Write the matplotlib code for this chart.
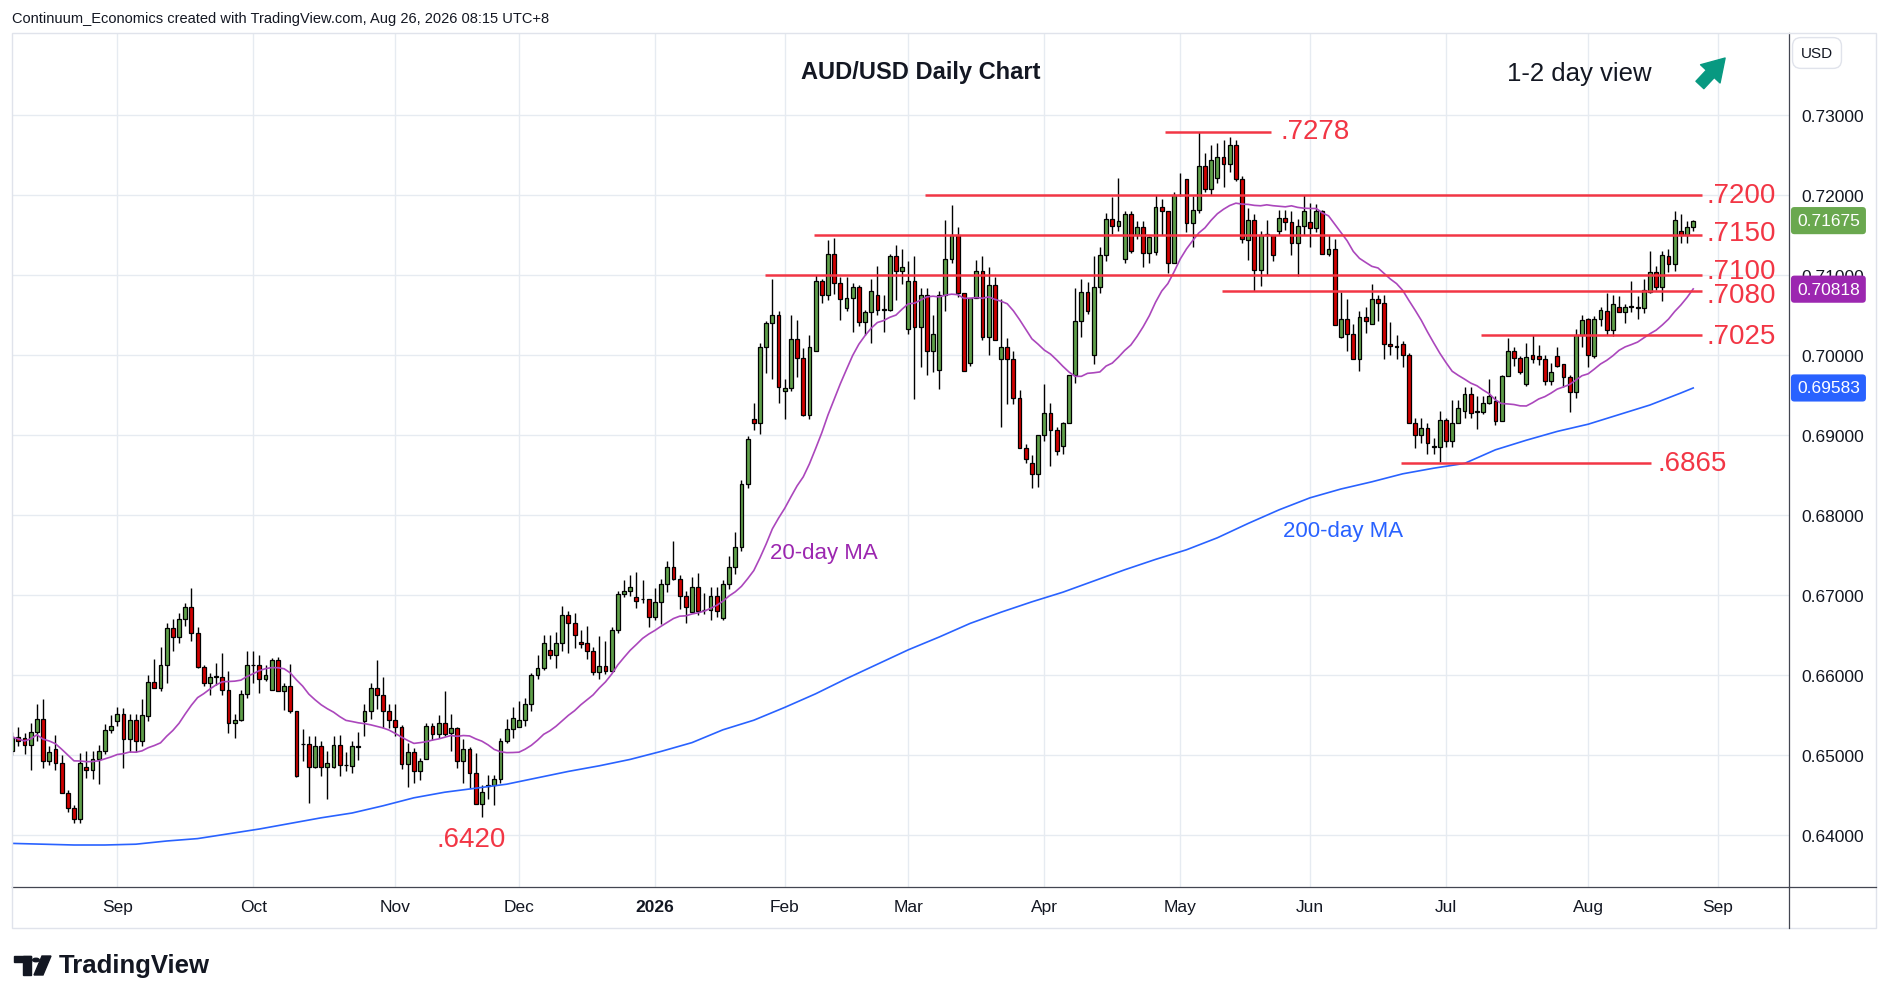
import numpy as np
import pandas as pd
import matplotlib.pyplot as plt
from matplotlib.patches import Rectangle, Circle, Polygon, FancyArrowPatch
from matplotlib.lines import Line2D
import matplotlib.transforms as mtransforms

plt.rcParams['font.family'] = ['Liberation Sans', 'DejaVu Sans']

# daily AUD/USD candles, 7 Aug 2025 .. 26 Aug 2026
opens = [
    .6505, .6522, .6521, .6512, .6528, .6545, .6492, .6507, .6490, .6452,
    .6433, .6420, .6485, .6481, .6494, .6505, .6531, .6542, .6551, .6520,
    .6543, .6517, .6548, .6591, .6583, .6612, .6658, .6647, .6669, .6685,
    .6652, .6610, .6589, .6597, .6597, .6581, .6540, .6543, .6576, .6612,
    .6612, .6595, .6581, .6618, .6579, .6586, .6554, .6513, .6513, .6485,
    .6511, .6484, .6484, .6512, .6487, .6486, .6509, .6542, .6555, .6583,
    .6574, .6555, .6543, .6535, .6488, .6503, .6480, .6495, .6536, .6526,
    .6540, .6527, .6533, .6492, .6507, .6477, .6438, .6461, .6462, .6469,
    .6517, .6532, .6535, .6543, .6563, .6600, .6608, .6631, .6624, .6640,
    .6675, .6664, .6641, .6639, .6630, .6603, .6611, .6604, .6656, .6701,
    .6704, .6697, .6694, .6694, .6672, .6691, .6713, .6735, .6720, .6698,
    .6678, .6710, .6681, .6681, .6698, .6671, .6713, .6735, .6760, .6838,
    .6920, .6915, .7010, .7040, .7049, .6955, .6958, .7020, .6996, .6924,
    .7005, .7092, .7074, .7126, .7089, .7058, .7071, .7085, .7041, .7053,
    .7074, .7056, .7056, .7123, .7104, .7032, .7092, .7034, .7074, .7005,
    .6981, .7074, .7119, .7150, .7077, .6990, .7071, .7104, .7022, .7087,
    .6994, .7010, .6994, .6946, .6883, .6865, .6851, .6900, .6927, .6906,
    .6886, .6915, .6974, .7042, .7078, .7000, .7085, .7125, .7169, .7161,
    .7120, .7176, .7150, .7160, .7127, .7128, .7185, .7180, .7115, .7199,
    .7220, .7165, .7181, .7236, .7207, .7221, .7247, .7238, .7262, .7220,
    .7143, .7168, .7106, .7150, .7150, .7155, .7171, .7166, .7140, .7161,
    .7166, .7158, .7180, .7126, .7132, .7022, .7044, .7026, .6995, .7047,
    .7038, .7070, .7065, .7013, .7010, .7013, .7000, .6915, .6899, .6908,
    .6885, .6885, .6918, .6892, .6915, .6930, .6951, .6928, .6928, .6939,
    .6942, .6917, .6973, .7004, .6996, .6963, .6999, .6998, .6995, .6967,
    .6998, .6988, .6972, .6953, .7024, .7044, .6998, .7045, .7055, .7031,
    .7060, .7053, .7060, .7060, .7058, .7078, .7103, .7084, .7123, .7113,
    .7155, .7149, .7160,
]
highs = [
    .6528, .6535, .6527, .6540, .6563, .6569, .6511, .6524, .6500, .6456,
    .6437, .6502, .6504, .6504, .6512, .6538, .6549, .6560, .6558, .6551,
    .6551, .6569, .6599, .6620, .6635, .6665, .6669, .6677, .6690, .6708,
    .6660, .6612, .6602, .6614, .6627, .6604, .6551, .6581, .6629, .6629,
    .6624, .6612, .6621, .6622, .6590, .6613, .6554, .6532, .6523, .6523,
    .6517, .6504, .6523, .6525, .6503, .6517, .6528, .6563, .6590, .6618,
    .6597, .6563, .6563, .6537, .6515, .6508, .6496, .6540, .6540, .6550,
    .6580, .6551, .6535, .6519, .6510, .6502, .6462, .6475, .6475, .6521,
    .6544, .6559, .6567, .6571, .6602, .6624, .6649, .6649, .6653, .6686,
    .6679, .6677, .6656, .6661, .6635, .6648, .6642, .6660, .6704, .6718,
    .6725, .6728, .6718, .6694, .6708, .6720, .6742, .6767, .6725, .6704,
    .6722, .6727, .6702, .6710, .6710, .6718, .6748, .6778, .6843, .6898,
    .6940, .7015, .7042, .7094, .7055, .6970, .7050, .7043, .7008, .7025,
    .7099, .7094, .7143, .7146, .7097, .7097, .7090, .7087, .7056, .7094,
    .7111, .7074, .7126, .7137, .7132, .7117, .7123, .7083, .7083, .7049,
    .7079, .7168, .7187, .7160, .7077, .7071, .7118, .7123, .7109, .7097,
    .7070, .7021, .7004, .6956, .6888, .6875, .6900, .6963, .6940, .6910,
    .6916, .6975, .7083, .7095, .7091, .7123, .7135, .7177, .7197, .7221,
    .7180, .7179, .7167, .7167, .7148, .7200, .7194, .7180, .7203, .7227,
    .7220, .7198, .7278, .7252, .7262, .7265, .7268, .7272, .7268, .7223,
    .7183, .7176, .7155, .7168, .7150, .7181, .7181, .7179, .7169, .7200,
    .7190, .7188, .7181, .7149, .7144, .7078, .7070, .7038, .7054, .7060,
    .7088, .7075, .7075, .7041, .7024, .7017, .7002, .6921, .6921, .6915,
    .6896, .6929, .6921, .6943, .6943, .6959, .6959, .6948, .6948, .6970,
    .6948, .6975, .7021, .7010, .6998, .7015, .7025, .7012, .7000, .6990,
    .7010, .6988, .6975, .7032, .7050, .7046, .7048, .7060, .7077, .7074,
    .7073, .7063, .7092, .7073, .7094, .7129, .7111, .7129, .7132, .7179,
    .7176, .7167, .7168,
]
lows = [
    .6500, .6511, .6501, .6481, .6517, .6483, .6487, .6481, .6452, .6428,
    .6415, .6415, .6471, .6470, .6463, .6501, .6527, .6536, .6483, .6503,
    .6503, .6511, .6542, .6583, .6580, .6590, .6630, .6640, .6661, .6642,
    .6608, .6586, .6575, .6587, .6575, .6527, .6521, .6542, .6571, .6590,
    .6577, .6592, .6581, .6579, .6556, .6552, .6472, .6492, .6440, .6483,
    .6473, .6444, .6483, .6473, .6480, .6477, .6493, .6523, .6544, .6557,
    .6533, .6533, .6523, .6482, .6460, .6465, .6468, .6494, .6518, .6521,
    .6523, .6504, .6483, .6465, .6458, .6438, .6422, .6444, .6437, .6465,
    .6515, .6521, .6535, .6536, .6554, .6595, .6606, .6620, .6608, .6629,
    .6627, .6633, .6633, .6619, .6599, .6594, .6601, .6603, .6652, .6697,
    .6698, .6683, .6690, .6660, .6668, .6663, .6703, .6718, .6682, .6665,
    .6678, .6674, .6676, .6668, .6672, .6668, .6707, .6726, .6754, .6833,
    .6906, .6901, .6977, .6969, .6940, .6919, .6955, .6972, .6923, .6920,
    .7004, .7065, .7068, .7076, .7043, .7054, .7028, .7036, .7025, .7015,
    .7049, .7028, .7054, .7068, .7088, .7026, .6945, .6985, .6975, .6978,
    .6957, .7054, .7114, .7072, .6979, .6986, .7071, .7018, .7000, .7018,
    .6910, .6938, .6938, .6883, .6865, .6833, .6835, .6892, .6861, .6875,
    .6876, .6915, .6965, .7022, .7051, .6988, .7077, .7117, .7151, .7154,
    .7114, .7127, .7145, .7110, .7115, .7125, .7150, .7102, .7114, .7198,
    .7153, .7135, .7177, .7203, .7200, .7215, .7210, .7228, .7217, .7140,
    .7118, .7079, .7086, .7099, .7117, .7150, .7156, .7124, .7098, .7149,
    .7134, .7153, .7126, .7123, .7037, .7021, .7005, .6995, .6979, .7027,
    .7038, .7042, .6995, .6999, .6995, .6985, .6915, .6883, .6890, .6876,
    .6876, .6866, .6885, .6885, .6914, .6921, .6921, .6907, .6926, .6938,
    .6912, .6917, .6973, .6986, .6976, .6961, .6990, .6987, .6962, .6962,
    .6985, .6960, .6928, .6946, .7010, .6985, .6996, .7036, .7024, .7023,
    .7053, .7040, .7053, .7044, .7052, .7077, .7081, .7067, .7103, .7105,
    .7140, .7139, .7155,
]
closes = [
    .6522, .6517, .6512, .6528, .6545, .6492, .6503, .6490, .6452, .6433,
    .6420, .6490, .6481, .6494, .6505, .6531, .6536, .6551, .6520, .6543,
    .6517, .6550, .6591, .6583, .6612, .6658, .6647, .6669, .6685, .6652,
    .6610, .6589, .6597, .6598, .6581, .6540, .6543, .6576, .6612, .6612,
    .6595, .6599, .6618, .6579, .6586, .6554, .6473, .6513, .6485, .6511,
    .6484, .6490, .6512, .6487, .6487, .6511, .6511, .6555, .6583, .6574,
    .6555, .6543, .6535, .6488, .6503, .6480, .6492, .6536, .6526, .6540,
    .6526, .6533, .6492, .6507, .6477, .6438, .6453, .6462, .6469, .6517,
    .6532, .6546, .6543, .6563, .6600, .6608, .6639, .6624, .6640, .6675,
    .6664, .6649, .6638, .6630, .6603, .6611, .6604, .6656, .6701, .6704,
    .6710, .6692, .6694, .6672, .6691, .6713, .6735, .6720, .6698, .6685,
    .6710, .6679, .6681, .6698, .6679, .6713, .6735, .6760, .6838, .6894,
    .6915, .7010, .7040, .7049, .6960, .6958, .7020, .6996, .6924, .7010,
    .7092, .7074, .7126, .7089, .7069, .7071, .7085, .7041, .7053, .7080,
    .7056, .7057, .7123, .7104, .7109, .7092, .7034, .7074, .7005, .7026,
    .7074, .7119, .7150, .7077, .6979, .7071, .7104, .7022, .7087, .7018,
    .7010, .6994, .6946, .6883, .6870, .6851, .6900, .6927, .6906, .6880,
    .6915, .6974, .7042, .7078, .7054, .7085, .7125, .7169, .7161, .7167,
    .7176, .7130, .7160, .7127, .7147, .7185, .7180, .7115, .7200, .7200,
    .7165, .7181, .7236, .7207, .7243, .7247, .7238, .7262, .7220, .7144,
    .7168, .7106, .7150, .7151, .7125, .7171, .7166, .7140, .7161, .7180,
    .7158, .7180, .7126, .7132, .7037, .7044, .7026, .6995, .7047, .7042,
    .7070, .7065, .7013, .7011, .7011, .7000, .6915, .6899, .6908, .6890,
    .6886, .6918, .6892, .6915, .6933, .6951, .6927, .6929, .6940, .6948,
    .6917, .6973, .7004, .6996, .6978, .6997, .6995, .6994, .6967, .6978,
    .6986, .6972, .6953, .7024, .7043, .6999, .7045, .7056, .7031, .7063,
    .7053, .7060, .7061, .7058, .7081, .7103, .7084, .7124, .7113, .7168,
    .7149, .7160, .71675,
]

# 200-day moving average (bar number, value)
ma200_bar = [0, 5, 10, 15, 20, 25, 30, 35, 40, 45, 50, 55, 60, 65, 70, 75,
             80, 85, 90, 95, 100, 105, 110, 115, 120, 125, 130, 135, 140,
             145, 150, 155, 160, 165, 170, 175, 180, 185, 190, 195, 200,
             205, 210, 215, 220, 225, 230, 235, 240, 245, 250, 255, 260,
             265, 270, 272]
ma200_val = [.6389, .6388, .6387, .6387, .6388, .6392, .6395, .6401, .6407,
             .6414, .6421, .6427, .6436, .6446, .6453, .6458, .6463, .6471,
             .6479, .6486, .6494, .6504, .6515, .6531, .6543, .6559, .6576,
             .6595, .6613, .6631, .6647, .6664, .6678, .6691, .6703, .6717,
             .6731, .6744, .6756, .6771, .6789, .6806, .6821, .6832, .6841,
             .6851, .6858, .6864, .6881, .6893, .6904, .6913, .6925, .6937,
             .6952, .69583]

levels = [0.7278, 0.7200, 0.7150, 0.7100, 0.7080, 0.7025, 0.6865]
level_labels = ['.7278', '.7200', '.7150', '.7100', '.7080', '.7025', '.6865']
low_label = '.6420'
price_tags = [0.71675, 0.70818, 0.69583]
tag_colors = ['#6aa84f', '#9c27b0', '#2962ff']

GREEN = '#5fa04a'
RED = '#d00000'
LINE_RED = '#f23645'
TXT = '#131722'

o = np.array(opens)
h = np.array(highs)
l = np.array(lows)
c = np.array(closes)
n = len(c)
x = np.arange(n)

# trading days (FX: weekdays, no Christmas / New Year bar)
days = pd.bdate_range('2025-08-07', '2026-09-30')
days = days[~days.isin(pd.to_datetime(['2025-12-25', '2026-01-01']))]

ma20 = pd.Series(c).rolling(20, min_periods=1).mean()

W, H = 1889, 1003
fig = plt.figure(figsize=(W / 100, H / 100), dpi=100)
def fx(px):
    return px / W
def fy(py):
    return 1 - py / H

ax = fig.add_axes([fx(12), fy(888), fx(1789) - fx(12), fy(33.7) - fy(888)])
ax.set_xlim(-0.03, 287.5)
ax.set_ylim(0.63345, 0.74024)

# month ticks
tick_pos, tick_lab = [], []
for i in range(1, len(days)):
    if days[i].month != days[i - 1].month and i < 287:
        tick_pos.append(i)
        tick_lab.append(str(days[i].year) if days[i].month == 1 else days[i].strftime('%b'))
ax.set_xticks(tick_pos)
ax.set_xticklabels(tick_lab)
for t in ax.get_xticklabels():
    if t.get_text().isdigit():
        t.set_fontweight('bold')

yt = np.round(np.arange(0.64, 0.7301, 0.01), 2)
ax.set_yticks(yt)
ax.set_yticklabels(['%.5f' % v for v in yt])
ax.yaxis.tick_right()
ax.tick_params(axis='both', length=0, labelsize=12.5, colors=TXT)
ax.tick_params(axis='y', pad=9)
ax.tick_params(axis='x', pad=9)
ax.grid(True, color='#e6ebf1', lw=1.0)
ax.set_axisbelow(True)
for s in ['top', 'left']:
    ax.spines[s].set_visible(False)
for s in ['right', 'bottom']:
    ax.spines[s].set_color('#434651')
    ax.spines[s].set_linewidth(0.9)

# candles
up = c >= o
body_lo = np.minimum(o, c)
body_h = np.maximum(np.abs(c - o), 0.00002)
ax.vlines(x, l, h, color='black', lw=1.0, zorder=3)
ax.bar(x, body_h, bottom=body_lo, width=0.62, color=np.where(up, GREEN, RED),
       edgecolor='black', linewidth=0.9, zorder=4)

# moving averages
ax.plot(x, ma20, color='#ab47bc', lw=1.2, zorder=5)
ax.plot(ma200_bar, ma200_val, color='#2962ff', lw=1.2, zorder=5)

# support / resistance lines
spans = [(186.5, 203.7), (147.7, 273.4), (129.8, 273.4), (121.8, 273.4),
         (195.7, 273.4), (237.6, 273.4), (224.7, 265.1)]
label_at = [(205.2, 0.7280), (274.2, 0.7200), (274.2, 0.7152), (274.2, 0.7105),
            (274.2, 0.7075), (274.2, 0.7023), (266.3, 0.6865)]
for lev, lab, (a, b), (tx, ty) in zip(levels, level_labels, spans, label_at):
    ax.plot([a, b], [lev, lev], color=LINE_RED, lw=1.8, zorder=6, solid_capstyle='butt')
    ax.text(tx, ty, lab, color=LINE_RED, fontsize=20, va='center', ha='left', zorder=7)
ax.text(68.6, 0.6395, low_label, color=LINE_RED, fontsize=20, va='center', ha='left')

ax.text(122.6, 0.6753, '20-day MA', color='#9c27b0', fontsize=16, va='center', ha='left')
ax.text(205.6, 0.6780, '200-day MA', color='#2962ff', fontsize=16, va='center', ha='left')

ax.text(147.0, 0.73541, 'AUD/USD Daily Chart', color=TXT, fontsize=17,
        fontweight='bold', ha='center', va='center')
ax.text(253.6, 0.73526, '1-2 day view', color=TXT, fontsize=18.5, ha='center', va='center')

# arrow
arr = FancyArrowPatch((fx(1698), fy(88)), (fx(1727), fy(57)), transform=fig.transFigure,
                      arrowstyle='simple,head_width=1.6,head_length=1.3,tail_width=0.65',
                      mutation_scale=12, color='#089981')
fig.patches.append(arr)

# price tags on the scale
tr = mtransforms.blended_transform_factory(ax.transAxes, ax.transData)
for val, col in zip(price_tags, tag_colors):
    ax.text(1.0045, val, '%.5f' % val, transform=tr, color='white', fontsize=12.5,
            va='center', ha='left', clip_on=False, zorder=10,
            bbox=dict(boxstyle='round,pad=0.35,rounding_size=0.2', fc=col, ec='none'))

fig.text(fx(1817), fy(54), 'USD', fontsize=11, color=TXT, ha='center', va='center',
         bbox=dict(boxstyle='round,pad=0.55', fc='white', ec='#e0e3eb', lw=1))

# frame
fig.patches.append(Rectangle((fx(12), fy(928.8)), fx(1875.6) - fx(12), fy(33.7) - fy(928.8),
                             transform=fig.transFigure, fill=False, ec='#e0e3eb', lw=1))
fig.lines.append(Line2D([fx(1789), fx(1875.6)], [fy(888), fy(888)],
                        transform=fig.transFigure, color='#434651', lw=0.9))
fig.lines.append(Line2D([fx(1789), fx(1789)], [fy(888), fy(928.8)],
                        transform=fig.transFigure, color='#434651', lw=0.9))

fig.text(fx(12), fy(19.3), 'Continuum_Economics created with TradingView.com, Aug 26, 2026 08:15 UTC+8',
         fontsize=10.5, color=TXT, ha='left', va='center')

# TradingView logo
fig.patches.append(Rectangle((fx(14), fy(963)), fx(31) - fx(14), fy(957) - fy(963),
                             transform=fig.transFigure, color=TXT))
fig.patches.append(Rectangle((fx(23), fy(976)), fx(31) - fx(23), fy(957) - fy(976),
                             transform=fig.transFigure, color=TXT))
fig.patches.append(Circle((fx(36), fy(961)), 3.3 / W, transform=fig.transFigure, color=TXT))
fig.patches.append(Polygon([(fx(42), fy(957)), (fx(51), fy(957)), (fx(43), fy(976)), (fx(34), fy(976))],
                           closed=True, transform=fig.transFigure, color=TXT))
fig.text(fx(59), fy(966), 'TradingView', fontsize=18.5, fontweight='bold', color=TXT,
         ha='left', va='center')

fig.savefig('out.png', dpi=100)
